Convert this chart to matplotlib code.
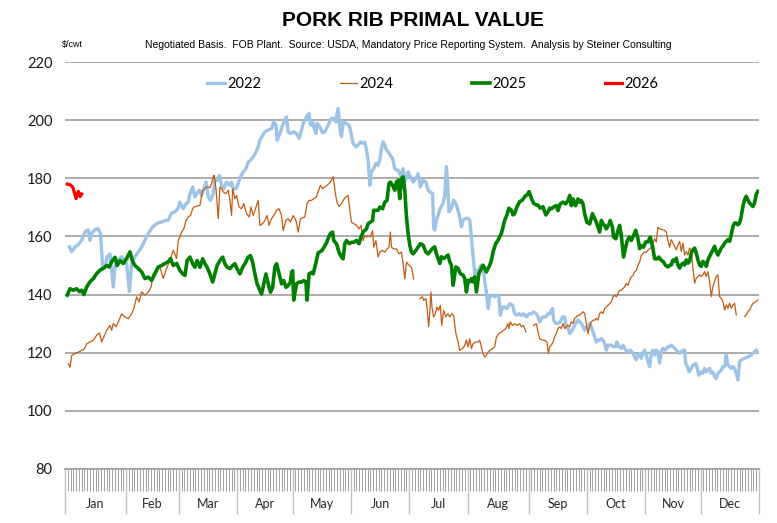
import matplotlib
matplotlib.use("Agg")
import matplotlib.pyplot as plt
import matplotlib.transforms as mtransforms
import numpy as np

# month layout of the trading-day axis
months = ["Jan", "Feb", "Mar", "Apr", "May", "Jun", "Jul", "Aug", "Sep", "Oct", "Nov", "Dec"]
month_days = [22, 19, 21, 20, 21, 21, 21, 22, 21, 21, 20, 21]

# 2022 (trading day, $/cwt)
days_2022 = [1.6, 2.4, 3.6, 4.8, 6.0, 7.2, 8.4, 9.0, 9.6, 10.8, 12.0, 12.8, 13.6, 14.4, 15.2, 16.2,
             17.4, 18.0, 19.2, 20.4, 22.2, 23.2, 24.0, 25.2, 26.4, 27.6, 28.8, 30.0, 31.2, 32.4, 33.6,
             34.8, 36.0, 37.2, 38.4, 39.6, 40.8,
             41.4, 42.6, 43.6, 44.4, 45.0, 46.0, 46.8, 47.4, 48.4, 49.2, 50.0, 50.8, 51.6, 52.4, 53.4,
             54.0, 54.8, 55.6, 56.4, 57.2, 58.2, 59.4, 60.0, 60.6, 61.6, 62.4, 63.2, 64.2, 65.2, 66.0,
             66.8, 67.8, 68.8, 69.6, 70.2, 71.2, 72.0, 73.2, 74.4, 75.2, 76.0, 76.4, 77.4, 78.4, 79.2,
             79.8, 80.4, 81.2, 82.2, 83.4, 84.3, 85.2, 86.0, 87.0, 87.9,
             88.4, 89.2, 89.6, 90.4, 90.8, 91.8, 92.8, 93.6, 94.8, 96.0, 96.8, 97.6, 98.0, 98.4, 99.0,
             99.6, 100.2, 101.2, 102.4, 103.2, 103.8, 104.8, 105.6, 106.4, 107.4, 108.0, 108.6, 109.2,
             109.8, 110.4, 111.2, 112.0, 112.8, 113.4, 114.0, 114.6, 115.2, 115.8, 116.4, 117.2, 118.0,
             118.8, 119.4, 120.0, 120.8, 121.8, 122.4, 123.0, 123.6, 124.4, 125.4, 126.4, 127.2, 128.0,
             129.0, 130.0, 130.8, 131.4,
             132.4, 132.8, 133.2, 133.8, 134.4, 135.2, 136.2, 136.8, 137.4, 137.8, 138.3, 139.2, 140.0,
             141.0, 141.9, 142.8, 143.4, 144.4, 145.2, 145.8, 146.4, 147.0, 147.6, 148.2, 148.8, 149.4,
             150.0, 150.6, 151.2, 151.8, 152.4, 153.0, 153.6, 154.2, 154.8, 155.4, 156.3, 156.8, 157.6,
             158.4, 159.2, 160.2, 161.2, 162.0, 162.6, 163.5, 164.4, 165.2, 166.2, 167.2, 168.0, 168.8,
             169.8, 170.4, 171.0, 171.6, 172.2, 173.2, 174.0, 174.6,
             175.2, 175.6, 176.0, 176.8, 177.6, 178.4, 179.2, 180.0, 180.6, 181.2, 181.8, 182.4, 183.0,
             183.9, 184.8, 185.4, 186.0, 186.6, 187.2, 187.8, 188.4, 189.0, 189.6, 190.2, 190.8, 191.4,
             192.0, 192.6, 193.2, 193.8, 194.4, 195.0, 195.6, 196.2, 196.8, 197.4, 198.4, 198.8, 199.6,
             200.4, 201.0, 202.0, 202.8, 203.6, 204.6, 205.2, 205.8, 206.4, 207.0, 207.6, 208.2, 208.8,
             209.4, 210.0, 210.6, 211.2, 211.8, 212.4, 213.0, 213.6, 214.2, 214.8, 215.4, 216.3, 217.2,
             217.8,
             218.4, 219.0, 219.6, 220.2, 220.8, 221.4, 222.0, 222.6, 223.2, 223.6, 224.0, 224.8, 225.6,
             226.2, 227.2, 227.6, 228.3, 229.2, 229.8, 230.4, 231.0, 231.6, 232.2, 232.8, 233.4, 234.0,
             234.6, 235.2, 235.8, 236.4, 237.0, 237.6, 238.2, 238.8, 239.4, 240.0, 240.6, 241.2, 241.8,
             242.4, 243.0, 243.6, 244.8, 246.0, 247.2, 248.4, 249.0, 249.4]
price_2022 = [156.4, 154.7, 156.4, 157.2, 158.7, 161.6, 162.2, 158.7, 161, 162.4, 162.6, 161, 149, 149.5,
              153, 154, 142.6, 149.5, 152, 153, 150.7, 141, 150.7, 153, 154.7, 156.4, 158.7, 161, 162.8,
              164, 164.7, 165, 165.4, 165.6, 168, 168.5, 169.7,
              171.8, 169.5, 171.3, 171.8, 174.7, 177, 173.6, 174.7, 175.9, 174.1, 176.4, 178.7, 173.6,
              172.4, 174.7, 179.3, 179.3, 181, 177.6, 176.4, 178.7, 177.6, 178.7, 176.4, 176.4, 178.2,
              180.5, 182.2, 183.3, 185.6, 186.2, 187.4, 189.1, 190.8, 193.1, 194.8, 196, 196.6, 197.1,
              199.4, 198.3, 193.1, 195.4, 198.3, 200, 201.1, 196, 195.4, 196, 195.4, 193.7, 196.6, 199.4,
              201.1, 202.3,
              198.3, 199.4, 197.7, 195.4, 198.9, 197.7, 195.6, 196, 198.3, 200.6, 200.6, 199.4, 202.3,
              204, 197.1, 194.3, 199.4, 198.9, 198.3, 194.8, 192, 190.8, 191.4, 192.5, 192, 192.5, 189.7,
              186.2, 177.6, 182.2, 183.3, 185.1, 184.5, 186.2, 190.2, 192.5, 191.4, 189.7, 189.1, 187.9,
              186.8, 183.3, 182.8, 182.8, 181, 183.3, 178.7, 180.5, 182.2, 180.5, 178.7, 179.9, 181.6,
              177, 179.3, 178.7, 175.9, 175.3,
              174.8, 162.8, 162.2, 165.6, 167.4, 169.7, 171.4, 174.3, 184, 178.9, 168.5, 169.7, 172.5,
              170.8, 167.9, 163.3, 165.6, 166.2, 166.2, 165.6, 159.9, 153, 147.2, 148.4, 146.7, 149.5,
              150.1, 149.5, 144.4, 140.9, 135.2, 139.2, 139.8, 139.8, 139.2, 139.8, 139.2, 132.9, 135.7,
              135.7, 135.2, 136.9, 136.3, 133.4, 132.9, 133.4, 132.9, 133.4, 132.3, 133.4, 133.4, 134,
              133.4, 132.3, 130.6, 131.7, 132.3, 132.3, 133.4, 133.4,
              134.6, 135.2, 131.2, 130.1, 130.1, 130.6, 132.3, 132.3, 128.9, 128.3, 126.6, 127.2, 128.3,
              130.1, 131.2, 130.6, 130.1, 128.9, 127.7, 128.9, 128.3, 130.1, 128.9, 127.2, 125.5, 123.7,
              124.3, 124.3, 124.9, 124.3, 123.2, 120.9, 122.6, 122.6, 122.6, 122.1, 122.1, 123.7, 122.1,
              121.5, 122.6, 120.9, 120.3, 120.9, 119.8, 118.6, 117.5, 119.2, 119.8, 118.1, 119.8, 120.9,
              119.2, 116.9, 115.2, 119.8, 120.9, 119.2, 120.9, 120.3, 116.4, 120.3, 121.5, 120.9, 122.1,
              122.1,
              122.6, 122.1, 121.5, 120.9, 120.3, 119.8, 120.3, 120.9, 120.9, 116.3, 115.7, 113.4, 114.6,
              115.7, 116.3, 115.2, 112.3, 113.4, 112.9, 114.6, 113.4, 114, 114.6, 112.9, 113.4, 111.7,
              111.1, 112.9, 113.4, 114, 115.2, 115.2, 119.2, 115.7, 115.2, 114.6, 115.2, 114.6, 112.9,
              110.6, 116.9, 117.5, 118.1, 118.6, 119.2, 120.3, 120.9, 120.3]

# 2024 (nan = no report)
days_2024 = [1.2, 1.8, 2.4, 3.6, 4.8, 6.0, 6.8, 7.8, 9.0, 10.2, 11.4, 12.4, 13.2, 14.0, 15.0, 16.2, 16.8,
             17.4, 18.4, 19.2, 20.4, 21.6, 22.8, 24.0, 24.8, 25.8, 26.7, 27.6, 28.8, 30.0, 31.0, 31.8,
             33.0, 34.2, 35.4, 36.6, 37.8, 39.0, 40.2, 40.8,
             41.4, 42.0, 42.8, 43.6, 44.4, 45.2, 46.0, 46.4, 47.2, 48.6, 49.6, 50.4, 51.0, 52.2, 52.8,
             53.4, 53.7, 54.4, 55.2, 55.8, 56.4, 57.0, 58.0, 58.8, 59.4, 60.0, 60.4, 61.2, 61.8, 62.7,
             63.6, 64.4, 65.4, 66.4, 67.0, 67.8, 68.8, 69.6, 70.2, 71.2, 72.0, 72.8, 73.5, 74.4, 75.2,
             76.2, 77.1, 78.0, 78.6, 79.6, 80.4, 81.2, 82.2, 83.2, 84.0, 84.8,
             86.4, 87.2, 87.9, 88.8, 89.6, 90.6, 91.2, 92.0, 92.8, 93.6, 94.4, 95.1, 96.0, 96.6, 97.6,
             98.0, 98.7, 99.6, 100.2, 101.2, 102.0, 102.6, 103.2, 104.0, 105.0, 105.9, 106.6, 107.4,
             108.0, 108.6, 109.2, 110.0, 110.8, 111.2, 112.0, 112.8, 113.4, 114.4, 115.2, 116.0, 116.7,
             117.2, 117.6, 118.4, 119.4, 120.3, 121.2, 121.8, 122.4, 123.0, 124.0, 124.8, 125.6,
             126.7,
             127.8, 128.8, 129.2, 130.0, 130.4, 131.0, 131.4, 131.8, 132.2, 132.8, 133.4, 134.0, 134.6,
             135.2, 135.7, 136.4, 137.2, 137.9, 138.6, 139.3, 140.0, 140.8, 141.6, 142.2, 143.2, 144.0,
             144.6, 145.2, 145.8, 146.4, 147.0, 148.0, 148.8, 149.4, 150.0, 150.6, 151.2, 151.8, 152.4,
             153.0, 154.0, 154.8, 155.4, 156.3, 157.2, 158.0, 158.8, 159.6, 159.9, 160.4, 161.2, 162.0,
             162.8, 163.8, 164.4, 165.2, 166.0,
             167.4,
             168.8, 169.8, 170.4, 171.0, 172.0, 172.8, 173.6, 174.1,
             174.6, 175.2, 175.8, 176.4, 177.0, 177.6, 178.2, 178.8, 179.4, 180.0, 180.6, 181.2, 181.8,
             182.4, 183.0, 183.6, 184.2, 184.8, 185.4, 186.0, 186.6, 187.2, 187.8, 188.4, 189.0, 189.6,
             190.2, 190.8, 191.4, 192.0, 192.6, 193.2, 193.8, 194.4, 195.0, 195.6, 196.2, 196.8, 197.4,
             198.0, 198.6, 199.2, 199.8, 200.4, 201.0, 201.6, 202.2, 202.8, 203.4, 204.0, 204.6, 205.2,
             205.8, 206.4, 207.0, 207.6, 208.2, 208.8, 209.4, 210.0, 210.6, 211.2, 211.8, 212.4, 213.0,
             213.6, 214.2, 215.2, 216.0, 216.6, 217.2, 217.8,
             218.4, 219.0, 219.6, 220.2, 220.8, 221.4, 222.0, 222.6, 223.2, 223.8, 224.4, 225.0, 225.6,
             226.2, 226.8, 227.4, 228.0, 228.6, 229.2, 229.8, 230.4, 231.0, 231.6, 232.2, 232.8, 233.4,
             234.0, 234.6, 235.2, 235.8, 236.4, 237.0, 237.6, 238.2, 238.8, 239.4, 240.0, 240.6, 241.2,
             241.8,
             243.3,
             244.8, 245.4, 246.0, 246.6, 247.2, 247.8, 249.0, 249.6]
price_2024 = [116.2, 115, 119, 119.7, 120.2, 120.8, 121.1, 123, 123.7, 124.3, 126, 126.8, 123.7, 125.4,
              127.7, 129.4, 127.7, 130, 128.9, 130.6, 133.4, 132.3, 131.7, 133.4, 135.2, 139.2, 137.5,
              140.9, 139.8, 140.9, 142.6, 147.2, 148.4, 149.5, 145.5, 149, 151.8, 155.3, 152.4, 158.7,
              159.8, 161.5, 162.6, 165.5, 166.7, 167.2, 169.5, 170.1, 170.3, 170.7, 175.9, 176.4, 177,
              176.8, 178.2, 180.5, 181, 176.4, 166.1, 177, 176.4, 175.3, 174.7, 175.9, 172.4, 167.2,
              176.4, 173, 174.1, 170.1, 169.5, 171.3, 167.8, 166.7, 170.1, 167.2, 170.1, 172.4, 163.8,
              164.4, 165.5, 167.2, 163.8, 166.1, 167.2, 169, 169.5, 167.2, 162, 165.5, 166.1, 164.9,
              167.2, 165.5, 161.5, 166.1,
              166.7, 171.3, 172.4, 172.4, 173, 173.6, 175.3, 177.6, 176.4, 177, 177.6, 178.2, 179.3,
              180.5, 173.6, 171.8, 170.3, 171.3, 172.4, 173.6, 174.1, 169, 164.9, 164.4, 163.8, 162.6,
              163.8, 158.6, 160.3, 159.8, 160.3, 159.8, 162, 156.3, 158.6, 152.9, 154.6, 155.2, 154.6,
              155.7, 156.3, 161.5, 156.3, 155.7, 155.7, 154, 154.6, 150.6, 145.4, 151.1, 150, 149.4,
              145.4,
              np.nan,
              138.6, 139.2, 138, 138.6, 135.7, 128.9, 133.4, 140.9, 135.7, 132.3, 133.4, 135.7, 134.6,
              136.3, 129.4, 134.6, 132.3, 133.4, 132.3, 133.4, 132.9, 126.6, 123.7, 120.8, 121.4, 122.5,
              124.3, 122, 124.8, 121.4, 123.1, 123.7, 123.7, 124.3, 122, 119.7, 118.5, 119.1, 120.2,
              120.8, 121.4, 122, 125.4, 126.6, 127.1, 127.7, 128.3, 130, 128.3, 130.6, 129.4, 130,
              129.4, 130, 128.9, 129.4, 127.1,
              np.nan,
              129.4, 130, 127.1, 124.8, 124.3, 124.3, 123.7, 119.7,
              122.1, 122.6, 123.7, 125.5, 126.6, 128.3, 128.9, 128.3, 130.1, 128.3, 128.9, 129.5, 128.9,
              130.6, 130.1, 131.8, 132.3, 132.9, 132.9, 133.5, 134.1, 133.5, 130.1, 126.6, 128.9, 130.6,
              131.2, 131.2, 131.8, 131.2, 133.5, 134.1, 133.5, 135.2, 135.8, 136.3, 136.9, 137.5, 139.2,
              139.8, 139.2, 140.3, 141.5, 141.5, 142.1, 142.6, 143.8, 143.2, 144.9, 146.1, 146.6, 147.8,
              148.3, 150.1, 151.2, 153.5, 154.1, 154.6, 154.6, 155.2, 155.8, 156.3, 157.5, 159.2, 158.1,
              163.2, 162.6, 162.3, 162.1, 161.5, 158.6, 156.3,
              158.9, 157.7, 156.6, 155.4, 157.1, 158.3, 154.8, 157.7, 153.6, 154.8, 153.6, 156, 154.8,
              149.1, 143.9, 145.7, 146.2, 146.8, 146.2, 146.8, 147.9, 146.2, 147.9, 144.5, 139.3, 142.8,
              144.5, 146.2, 146.8, 139.3, 138.7, 137.6, 134.7, 136.4, 135.3, 137, 135.3, 136.4, 137,
              133,
              np.nan,
              132.4, 133, 134.1, 134.7, 135.9, 137, 137.6, 138.2]

# 2025
days_2025 = [0.8, 1.8, 3.0, 4.2, 5.2, 6.0, 6.8, 7.8, 9.0, 10.2, 11.4, 12.6, 13.8, 15.0, 15.9, 16.8, 18.0,
             18.8, 19.8, 21.0, 22.2, 23.4, 24.4, 25.2, 26.4, 27.6, 28.8, 30.0, 31.2, 32.4, 33.6, 34.8,
             36.0, 37.2, 38.0, 39.0, 40.2,
             41.4, 42.4, 43.2, 44.0, 45.0, 46.0, 46.8, 47.6, 48.6, 49.6, 50.4, 51.2, 52.2, 53.2, 54.0,
             54.8, 55.8, 56.8, 57.6, 58.4, 59.4, 60.4, 61.2, 62.0, 63.0, 64.0, 64.8, 66.0, 66.8, 67.6,
             68.4, 69.2, 70.2, 70.8, 71.6, 72.4, 73.2, 74.0, 74.8, 75.6, 76.2, 77.0, 78.0, 78.8, 79.6,
             80.4, 81.2,
             81.6, 82.0, 82.4, 83.4, 84.3, 85.2, 86.0, 86.8, 87.2, 87.9, 88.8, 89.4, 90.4, 91.2, 92.4,
             93.2, 94.2, 95.1,
             95.6, 96.4, 96.8, 97.8, 98.7, 99.6, 100.2, 100.8, 101.4, 102.4, 103.2, 104.0, 105.0, 105.9,
             106.6, 107.4, 108.0, 108.6, 109.2, 110.0, 110.8, 111.2, 112.0, 112.8, 113.4, 114.4, 115.2,
             116.0, 116.7, 117.2, 118.0, 118.8, 119.4, 120.0, 120.6, 121.2, 121.8, 122.4, 123.0, 123.6,
             124.2, 124.8, 125.4, 126.4, 127.2, 128.0, 129.0, 130.0, 130.8,
             131.4, 132.4, 133.2, 133.8, 134.4, 135.0, 135.6, 136.4, 137.2, 138.0, 138.6, 139.2, 139.8,
             140.8, 141.6, 142.4, 143.4, 144.0, 144.6, 145.2, 145.8, 146.4, 147.0, 147.6, 148.2, 149.1,
             150.0, 150.6, 151.2, 151.8, 152.4, 153.0, 153.6, 154.2, 155.2, 156.0, 156.6, 157.2, 157.8,
             158.4, 159.2, 159.9, 160.8, 161.4, 162.0, 162.8, 163.8, 164.8, 165.6, 166.4, 167.2, 168.0,
             168.8, 169.8, 170.4, 171.2, 172.2, 173.2, 174.0, 174.6,
             175.2, 176.0, 177.0, 177.6, 178.4, 179.4, 180.3, 181.2, 181.8, 182.4, 183.0, 183.9, 184.8,
             185.4, 186.0, 186.6, 187.2, 188.0, 189.0, 190.0, 190.8, 191.4, 192.0, 192.6, 193.2, 193.8,
             194.4, 195.0, 196.0, 196.4, 197.2, 197.6, 198.4, 199.2, 199.8, 200.4, 201.2, 202.0, 202.4,
             203.2, 204.0, 204.8, 205.6, 206.4, 207.0, 207.6, 208.4, 209.2, 210.0, 210.8, 211.6, 212.4,
             213.2, 213.9, 214.8, 215.6, 216.3, 217.2, 217.8,
             218.4, 219.0, 219.6, 220.2, 220.8, 221.4, 222.0, 222.6, 223.2, 223.8, 224.4, 225.0, 225.6,
             226.2, 226.8, 227.4, 228.0, 228.6, 229.2, 229.8, 230.4, 231.0, 231.6, 232.2, 232.8, 233.4,
             234.0, 234.6, 235.2, 235.8, 236.4, 237.0, 237.6, 238.2, 238.8, 239.4, 240.0, 240.6, 241.2,
             241.8, 242.4, 243.0, 243.6, 244.2, 244.8, 245.4, 246.0, 246.6, 247.2, 247.8, 248.4, 249.0,
             249.6]
price_2025 = [139.8, 142, 141.5, 142, 141, 141.5, 140, 142.6, 144.4, 145.5, 147.2, 148.4, 149, 150, 149.5,
              151.3, 152.8, 150, 151.7, 150.7, 152.4, 154.7, 151.3, 150, 149, 147.8, 145.5, 146, 144.9,
              147.2, 149.5, 150, 150.7, 151.3, 152.4, 150, 150.7,
              148.3, 147.1, 146.6, 151.7, 152.9, 150.6, 149.4, 151.7, 149.4, 152.3, 150.6, 149.4, 147.1,
              144.3, 147.1, 150, 151.7, 152.9, 150.6, 149.4, 148.9, 150, 150.6, 148.9, 147.1, 149.4,
              150.6, 152.9, 153.4, 151.1, 147.1, 143.7, 141.4, 140.2, 143.7, 147.1, 143.7, 140.8, 142.5,
              149.4, 150.6, 147.7, 143.7, 144.8, 142.5, 143.1, 144.3,
              147.6, 148.2, 138.1, 143.7, 144.3, 144.3, 144.8, 144.3, 138.1, 147.1, 147.6, 147.1, 151,
              154.4, 155, 156.1, 157.8, 160,
              161, 161.5, 158.6, 157.5, 154.6, 152.9, 152.3, 157.5, 158.6, 157.5, 158, 158, 158.6, 157.5,
              159.8, 161.5, 162.1, 162.6, 164.4, 164.9, 165.5, 169, 169, 169, 170.1, 169.5, 171.8, 172.4,
              178.2, 178.7, 177.6, 175.9, 178.7, 179.3, 173, 179.9, 180.5, 175.9, 166.7, 161, 157, 154.6,
              154, 155.2, 156.3, 157.5, 157, 154.6, 154,
              154.7, 155.9, 156.4, 154, 152.4, 150.7, 153, 152.4, 153, 153.6, 151.3, 150.1, 143.2, 149.5,
              149, 147.2, 146.7, 145.5, 140.9, 144.9, 144.4, 145.5, 144.4, 146.1, 140.9, 147.2, 149,
              150.1, 149, 147.8, 149, 150.1, 151.8, 154.7, 157.6, 158.7, 159.9, 161, 163.3, 165.6, 167.4,
              169.7, 169, 167.4, 167.9, 170.2, 172, 172.5, 173.7, 174.3, 175.4, 173.1, 171.4, 170.8,
              170.8, 169.7, 170.2, 167.4, 168.5, 169.7,
              169.5, 170.1, 170.6, 168.9, 171.2, 171.8, 171.2, 172.3, 174.1, 170.6, 172.9, 170.6, 172.9,
              171.8, 172.3, 171.2, 167.8, 164.9, 164.3, 167.8, 166.1, 164.9, 163.2, 161.5, 165.5, 164.3,
              163.8, 162.6, 164.3, 165.5, 163.2, 159.8, 159.2, 162.1, 163.8, 160.3, 152.9, 156.3, 158.1,
              159.8, 158.6, 160.3, 162.1, 159.2, 155.8, 156.9, 156.3, 158.1, 158.1, 159.8, 156.9, 152.3,
              152.3, 152.9, 151.8, 151.2, 150.1, 149.5, 150.1,
              150.2, 151.9, 151.4, 152.5, 150.2, 149.1, 150.2, 150.8, 150.2, 151.9, 150.8, 151.4, 154.3,
              155.4, 156, 154.3, 151.9, 150.2, 149.7, 151.4, 150.8, 149.7, 151.9, 153.1, 154.3, 155.4,
              156.6, 154.8, 153.6, 154.8, 156, 156.6, 157.7, 158.3, 158.9, 158.3, 160.6, 163.4, 164.6,
              164.6, 164, 164.6, 166.9, 170.3, 172.6, 173.8, 172.6, 171.5, 170.9, 170.3, 171.5, 174.4,
              175.5]

# 2026
days_2026 = [0.8, 1.8, 2.8, 3.4, 4.0, 4.8, 5.4, 6.0]
price_2026 = [178, 177.8, 177, 175, 173, 175.5, 173.7, 174.6]

series = [
    ("2022", days_2022, price_2022, "#9DC3E6", 2.4),
    ("2024", days_2024, price_2024, "#C55A11", 0.9),
    ("2025", days_2025, price_2025, "#008000", 2.6),
    ("2026", days_2026, price_2026, "#FF0000", 2.3),
]

W, H = 777, 523
fig = plt.figure(figsize=(W / 100, H / 100), dpi=100)
ax = fig.add_axes([65 / W, 1 - 469 / H, 694 / W, 407 / H])

for name, d, p, color, lw in series:
    ax.plot(d, p, color=color, lw=lw, label=name, solid_joinstyle="round")

n_days = sum(month_days)
ax.set_xlim(0, n_days)
ax.set_ylim(80, 220)
ax.set_yticks(np.arange(80, 221, 20))
ax.yaxis.grid(True, color="#A6A6A6", lw=1.3)
ax.set_axisbelow(True)
for s in ["left", "right", "top"]:
    ax.spines[s].set_visible(False)
ax.spines["bottom"].set_color("#A6A6A6")
ax.spines["bottom"].set_linewidth(1.3)
ax.tick_params(axis="y", length=0, pad=9, labelsize=10.5, labelcolor="#1a1a1a")
for lab in ax.get_yticklabels():
    lab.set_family(["Lato", "DejaVu Sans"])

# daily tick band
ax.set_xticks(np.arange(0, n_days + 1))
ax.set_xticklabels([])
ax.tick_params(axis="x", length=16, width=0.7, color="#A0A0A0", direction="out")

# month separators and labels
trans = mtransforms.blended_transform_factory(ax.transData, ax.transAxes)
edges = np.concatenate([[0], np.cumsum(month_days)])
for e in edges:
    ax.plot([e, e], [0, -0.108], transform=trans, color="#BFBFBF", lw=1, clip_on=False)
for i, m in enumerate(months):
    ax.text((edges[i] + edges[i + 1]) / 2, -0.085, m, transform=trans, ha="center", va="center",
            fontsize=9, family=["Lato", "DejaVu Sans"], color="#262626")

fig.text(413 / W, 1 - 20 / H, "PORK RIB PRIMAL VALUE", ha="center", va="center", fontsize=15,
         fontweight="bold", family=["Liberation Sans Narrow", "Liberation Sans", "DejaVu Sans"])
fig.text(408 / W, 1 - 45 / H,
         "Negotiated Basis.  FOB Plant.  Source: USDA, Mandatory Price Reporting System.  Analysis by Steiner Consulting",
         ha="center", va="center", fontsize=7.5,
         family=["Liberation Sans Narrow", "Liberation Sans", "DejaVu Sans"])
fig.text(62 / W, 1 - 45 / H, "$/cwt", ha="left", va="center", fontsize=6.5,
         family=["Liberation Sans Narrow", "Liberation Sans", "DejaVu Sans"])

ax.legend(loc="center", bbox_to_anchor=(433 / W, 1 - 84 / H), bbox_transform=fig.transFigure,
          ncol=4, frameon=False, handlelength=1.2, handletextpad=0.15, columnspacing=5.4,
          prop={"family": ["Lato", "DejaVu Sans"], "size": 10.5})

fig.savefig("out.png", dpi=100)
